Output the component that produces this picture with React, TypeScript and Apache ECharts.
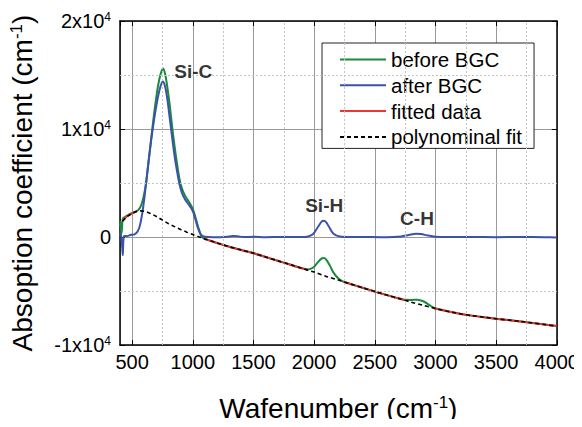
import React, { useEffect, useRef } from "react";
import * as echarts from "echarts";

const FONT = '"Liberation Sans", Arial, Helvetica, sans-serif';

// Axis ranges
const X_MIN = 400;
const X_MAX = 4000;
const Y_MIN = -10000;
const Y_MAX = 20000;
const Y_STEP = 10000;

// Dashed minor grid positions
const minorX = [750, 1250, 1750, 2250, 2750, 3250, 3750];
const minorY = [-5000, 5000, 15000];

// Spectrum before background correction [wavenumber, absorption]
const beforeBGC: [number, number][] = [
  [400, 1000], [404, 1400], [408, 800], [412, 350], [416, 700], [420, 1500], [426, 1750],
  [440, 1850], [470, 2050], [500, 2220], [530, 2350], [555, 2550], [575, 2950], [595, 3750],
  [615, 5000], [640, 7400], [665, 9900], [690, 12200], [715, 14100], [738, 15200], [756, 15600],
  [772, 15100], [790, 13900], [810, 12200], [830, 10200], [850, 8400], [870, 6800], [890, 5400],
  [910, 4500], [935, 3850], [960, 3400], [985, 2950], [1005, 2450], [1025, 1700], [1045, 900],
  [1065, 250], [1085, -100], [1110, -220], [1150, -370], [1200, -550], [1300, -900], [1400, -1200],
  [1500, -1500], [1600, -1850], [1700, -2200], [1800, -2550], [1900, -2900], [1950, -3000],
  [1990, -2850], [2030, -2350], [2060, -2000], [2080, -1950], [2100, -2100], [2130, -2650],
  [2160, -3300], [2200, -3850], [2240, -4130], [2300, -4350], [2400, -4700], [2500, -5050],
  [2600, -5380], [2700, -5700], [2750, -5820], [2800, -5830], [2850, -5800], [2900, -5950],
  [2950, -6300], [2980, -6520], [3000, -6620], [3100, -6880], [3200, -7100], [3300, -7280],
  [3400, -7430], [3500, -7570], [3600, -7690], [3700, -7820], [3800, -7960], [3900, -8100],
  [4000, -8250],
];

// Spectrum after background correction
const afterBGC: [number, number][] = [
  [400, 100], [406, 400], [412, -200], [418, -900], [423, -1700], [428, -300], [435, 100],
  [460, 80], [490, 200], [520, 250], [545, 500], [565, 1100], [585, 2300], [605, 4000],
  [630, 6500], [655, 8800], [680, 10800], [705, 12500], [730, 13800], [752, 14400], [770, 14000],
  [790, 12800], [810, 11000], [830, 9200], [850, 7500], [870, 6100], [890, 4900], [910, 4100],
  [935, 3500], [960, 3100], [985, 2700], [1005, 2250], [1025, 1500], [1045, 750], [1065, 250],
  [1090, 60], [1130, 0], [1200, -30], [1280, 20], [1330, 90], [1370, 60], [1420, 0], [1500, 20],
  [1600, -20], [1700, 0], [1800, 10], [1900, 0], [1950, 50], [1990, 250], [2030, 900],
  [2060, 1400], [2080, 1500], [2100, 1350], [2130, 800], [2160, 300], [2200, 80], [2260, 0],
  [2400, 0], [2550, -20], [2650, 0], [2720, 50], [2780, 180], [2840, 300], [2880, 280],
  [2940, 130], [3000, 30], [3100, 0], [3300, 0], [3500, -20], [3700, 0], [3900, -20], [4000, -40],
];

// Data regions used for the background fit
const fittedSeg1: [number, number][] = [
  [420, 1500], [450, 1830], [480, 2060], [510, 2240], [540, 2370],
];
const fittedSeg2: [number, number][] = [
  [1100, -180], [1200, -550], [1300, -900], [1400, -1200], [1500, -1500], [1600, -1850],
  [1700, -2200], [1800, -2550], [1900, -2900], [1950, -3080],
];
const fittedSeg3: [number, number][] = [
  [2240, -4130], [2300, -4350], [2400, -4700], [2500, -5050], [2600, -5380], [2700, -5700],
  [2750, -5860],
];
const fittedSeg4: [number, number][] = [
  [2980, -6560], [3000, -6620], [3100, -6880], [3200, -7100], [3300, -7280], [3400, -7430],
  [3500, -7570], [3600, -7690], [3700, -7820], [3800, -7960], [3900, -8100], [4000, -8250],
];

// Polynomial background
const polyFit: [number, number][] = [
  [420, 1450], [450, 1800], [480, 2050], [510, 2250], [540, 2380], [570, 2420], [600, 2380],
  [650, 2180], [700, 1900], [750, 1560], [800, 1230], [850, 960], [900, 700], [950, 450],
  [1000, 230], [1050, 20], [1100, -180], [1200, -550], [1300, -900], [1400, -1200], [1500, -1500],
  [1600, -1850], [1700, -2200], [1800, -2550], [1900, -2900], [2000, -3250], [2100, -3650],
  [2200, -3980], [2300, -4350], [2400, -4700], [2500, -5050], [2600, -5380], [2700, -5700],
  [2800, -6030], [2900, -6330], [3000, -6620], [3100, -6880], [3200, -7100], [3300, -7280],
  [3400, -7430], [3500, -7570], [3600, -7690], [3700, -7820], [3800, -7960], [3900, -8100],
  [4000, -8250],
];

// Band assignments
const bandNames = ["Si-C", "Si-H", "C-H"];
const bandPositions: [number, number][] = [
  [1004, 15300], [2083, 2900], [2848, 1700],
];

const legendNames = ["before BGC", "after BGC", "fitted data", "polynominal fit"];

const GREEN = "#1b8a3e";
const BLUE = "#3b52a8";
const RED = "#ee3535";
const NO_MARKER = { color: "rgba(0,0,0,0)", borderWidth: 0, opacity: 0 };

export default function App() {
  const ref = useRef<HTMLDivElement>(null);

  useEffect(() => {
    if (!ref.current) return;
    const chart = echarts.init(ref.current, null, { renderer: "svg" });

    const tickStyle = { inside: true, length: 5, lineStyle: { color: "#000", width: 1 } };
    const frameLine = { show: true, onZero: false, lineStyle: { color: "#000", width: 1.5 } };
    const titleStyle = {
      fontSize: 28,
      color: "#000",
      fontFamily: FONT,
      rich: { sup: { fontSize: 17, verticalAlign: "top", lineHeight: 15, fontFamily: FONT, color: "#000" } },
    };

    const redSeg = (data: [number, number][]) => ({
      type: "line",
      name: "fitted data",
      data,
      symbol: "none",
      smooth: 0.3,
      lineStyle: { color: RED, width: 2 },
      itemStyle: NO_MARKER,
      z: 4,
    });

    chart.setOption({
      animation: false,
      backgroundColor: "#fff",
      textStyle: { fontFamily: FONT },
      grid: { left: 117, right: 18, top: 21, bottom: 78, containLabel: false },
      legend: {
        data: legendNames,
        orient: "vertical",
        left: 322,
        top: 43,
        backgroundColor: "#fff",
        borderColor: "#222",
        borderWidth: 1,
        borderRadius: 0,
        padding: [6, 12, 1, 17],
        itemWidth: 46,
        itemHeight: 14,
        itemGap: 4.8,
        itemStyle: { opacity: 0 },
        textStyle: { fontSize: 20.5, color: "#000", fontFamily: FONT },
      },
      xAxis: [
        {
          type: "value",
          min: X_MIN,
          max: X_MAX,
          splitNumber: 7,
          minInterval: 500,
          maxInterval: 500,
          axisLine: frameLine,
          axisTick: tickStyle,
          splitLine: { show: true, lineStyle: { color: "#999", width: 1 } },
          axisLabel: {
            showMinLabel: false,
            formatter: (v: number) => (v % 500 === 0 ? String(v) : ""),
            fontSize: 20,
            color: "#000",
            margin: 7,
            fontFamily: FONT,
          },
          name: "Wafenumber (cm{sup|-1})",
          nameLocation: "middle",
          nameGap: 49,
          nameTextStyle: titleStyle,
        },
        {
          type: "value",
          position: "top",
          min: X_MIN,
          max: X_MAX,
          splitNumber: 7,
          minInterval: 500,
          maxInterval: 500,
          axisLine: frameLine,
          axisTick: tickStyle,
          axisLabel: { show: false },
          splitLine: { show: false },
        },
      ],
      yAxis: [
        {
          type: "value",
          min: Y_MIN,
          max: Y_MAX,
          interval: Y_STEP,
          axisLine: frameLine,
          axisTick: tickStyle,
          splitLine: { show: true, lineStyle: { color: "#999", width: 1 } },
          axisLabel: {
            formatter: (v: number) => (v === 0 ? "0" : `${v / 10000}x10{sup|4}`),
            fontSize: 20,
            color: "#000",
            margin: 9,
            fontFamily: FONT,
            rich: {
              sup: { fontSize: 12, verticalAlign: "top", lineHeight: 12, fontFamily: FONT, color: "#000" },
            },
          },
          name: "Absoption coefficient (cm{sup|-1})",
          nameLocation: "middle",
          nameGap: 84,
          nameTextStyle: titleStyle,
        },
        {
          type: "value",
          position: "right",
          min: Y_MIN,
          max: Y_MAX,
          interval: Y_STEP,
          axisLine: frameLine,
          axisTick: tickStyle,
          axisLabel: { show: false },
          splitLine: { show: false },
        },
      ],
      series: [
        {
          type: "line",
          name: "minor-grid",
          data: [],
          silent: true,
          z: 1,
          markLine: {
            silent: true,
            symbol: ["none", "none"],
            label: { show: false },
            animation: false,
            lineStyle: { color: "#c4c4c4", width: 1, type: [2, 2] },
            data: [
              ...minorX.map((v) => ({ xAxis: v })),
              ...minorY.map((v) => ({ yAxis: v })),
            ],
          },
        },
        {
          type: "line",
          name: "before BGC",
          data: beforeBGC,
          symbol: "none",
          smooth: 0.3,
          lineStyle: { color: GREEN, width: 2 },
          itemStyle: NO_MARKER,
          z: 2,
        },
        {
          type: "line",
          name: "after BGC",
          data: afterBGC,
          symbol: "none",
          smooth: 0.3,
          lineStyle: { color: BLUE, width: 2 },
          itemStyle: NO_MARKER,
          z: 3,
        },
        redSeg(fittedSeg1),
        redSeg(fittedSeg2),
        redSeg(fittedSeg3),
        redSeg(fittedSeg4),
        {
          type: "line",
          name: "polynominal fit",
          data: polyFit,
          symbol: "none",
          smooth: 0.3,
          lineStyle: { color: "#000", width: 1.6, type: [4, 3] },
          itemStyle: NO_MARKER,
          z: 5,
        },
        {
          type: "scatter",
          name: "bands",
          silent: true,
          symbolSize: 0,
          data: bandPositions.map((p, i) => ({ value: p, name: bandNames[i] })),
          label: {
            show: true,
            position: "inside",
            formatter: (p: any) => p.name,
            fontSize: 19,
            fontWeight: "bold",
            color: "#000",
            fontFamily: FONT,
          },
          z: 6,
        },
      ],
    });

    return () => chart.dispose();
  }, []);

  return <div ref={ref} style={{ width: 582, height: 427, margin: -8 }} />;
}
